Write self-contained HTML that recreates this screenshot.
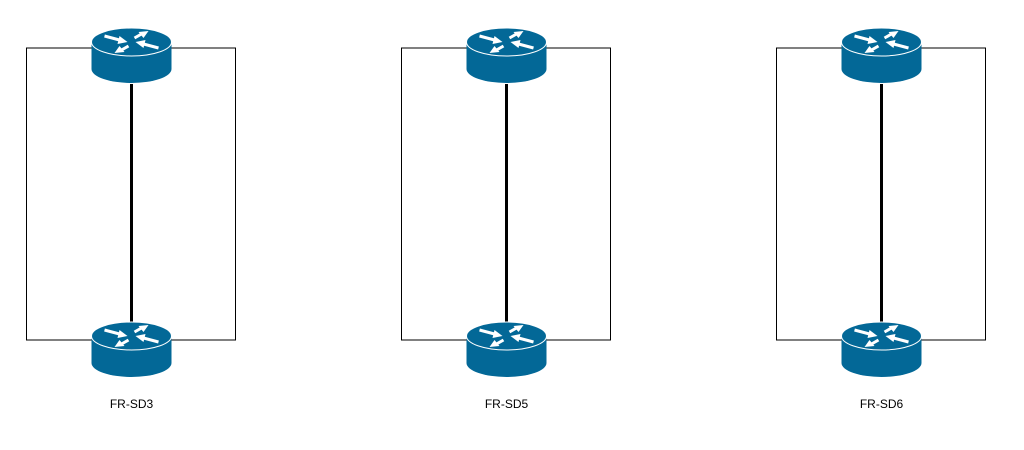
<!DOCTYPE html>
<html><head><meta charset="utf-8"><style>
html,body{margin:0;padding:0;background:#fff;}
svg{display:block;}
text{font-family:"Liberation Sans",sans-serif;font-size:12px;fill:#000;}
</style></head><body>
<svg width="1024" height="450" viewBox="0 0 1024 450" xmlns="http://www.w3.org/2000/svg">
<defs>
<g id="r">
<path d="M-40,42 L-40,69 A40,14 0 0 0 40,69 L40,42 Z" fill="#036897"/>
<ellipse cx="0" cy="42" rx="40" ry="14" fill="#036897" stroke="#fff" stroke-width="1"/>
<g stroke="#fff" stroke-width="3" fill="none">
<line x1="-27" y1="36" x2="-12" y2="40"/>
<line x1="27" y1="48" x2="12" y2="44"/>
<line x1="3" y1="38" x2="10" y2="34"/>
<line x1="-3" y1="46" x2="-10" y2="50"/>
</g>
<g fill="#fff">
<polygon points="-4,42 -14,44 -12,36"/>
<polygon points="4,42 14,40 12,48"/>
<polygon points="17,31 12,38 7,32"/>
<polygon points="-17,53 -12,46 -7,52"/>
</g>
</g>
<g id="u">
<rect x="-105" y="48" width="209" height="292" fill="none" stroke="#000" stroke-width="1"/>
<line x1="0" y1="84" x2="0" y2="322" stroke="#000" stroke-width="3"/>
<use href="#r"/>
<use href="#r" transform="translate(0,294)"/>
</g>
</defs>
<g transform="translate(131.5,0)"><use href="#u"/><text x="0" y="408" text-anchor="middle">FR-SD3</text></g>
<g transform="translate(506.5,0)"><use href="#u"/><text x="0" y="408" text-anchor="middle">FR-SD5</text></g>
<g transform="translate(881.5,0)"><use href="#u"/><text x="0" y="408" text-anchor="middle">FR-SD6</text></g>
</svg>
</body></html>
